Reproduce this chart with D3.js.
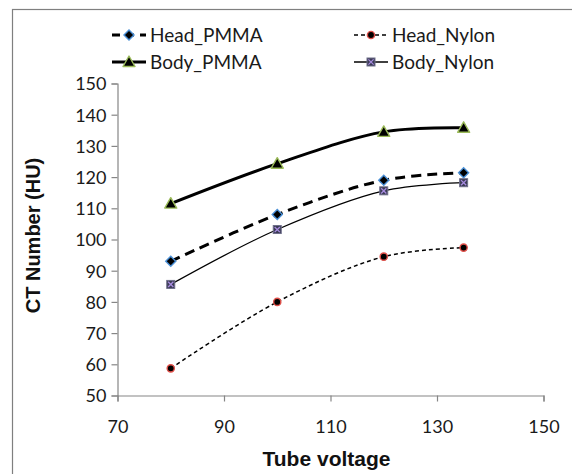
<!DOCTYPE html>
<html>
<head>
<meta charset="utf-8">
<script src="https://cdn.jsdelivr.net/npm/d3@7"></script>
<style>
  body { margin: 0; background: #fff; }
  svg { display: block; font-family: Lato, "Open Sans", sans-serif; }
</style>
</head>
<body>
<div id="chart"></div>
<script>
// Data
const voltages = [80, 100, 120, 135];
const headPMMA = [93, 108, 119, 121.4];
const headNylon = [58.7, 80, 94.5, 97.4];
const bodyPMMA = [111.5, 124.3, 134.5, 135.8];
const bodyNylon = [85.6, 103.2, 115.6, 118.2];
const xTicks = [70, 90, 110, 130, 150];
const yTicks = [50, 60, 70, 80, 90, 100, 110, 120, 130, 140, 150];

const dimensions = {
  width: 572,
  height: 474,
  margin: { top: 83.5, bottom: 78.5, left: 117.5, right: 28.5 },
};
const containerWidth =
  dimensions.width - dimensions.margin.left - dimensions.margin.right;
const containerHeight =
  dimensions.height - dimensions.margin.top - dimensions.margin.bottom;

const series = [
  { name: "Head_PMMA", values: headPMMA, width: 3, dash: "10,6", marker: "diamond" },
  { name: "Head_Nylon", values: headNylon, width: 1.5, dash: "4,3", marker: "circle" },
  { name: "Body_PMMA", values: bodyPMMA, width: 3, dash: null, marker: "triangle" },
  { name: "Body_Nylon", values: bodyNylon, width: 1.3, dash: null, marker: "square" },
];

const svg = d3
  .select("#chart")
  .append("svg")
  .attr("width", dimensions.width)
  .attr("height", dimensions.height);

// outer chart frame
svg.append("rect")
  .attr("x", 12.5).attr("y", 9.5)
  .attr("width", 575).attr("height", 480)
  .attr("fill", "none")
  .attr("stroke", "#7f7f7f")
  .attr("stroke-width", 1.2);

const ctr = svg
  .append("g")
  .attr("transform", `translate(${dimensions.margin.left}, ${dimensions.margin.top})`);

const xScale = d3.scaleLinear().domain([70, 150]).range([0, containerWidth]);
const yScale = d3.scaleLinear().domain([50, 150]).range([containerHeight, 0]);

// Axes
const xAxis = d3.axisBottom(xScale).tickValues(xTicks).tickSizeOuter(0).tickSize(6).tickPadding(19);
const yAxis = d3.axisLeft(yScale).tickValues(yTicks).tickSizeOuter(0).tickSize(6).tickPadding(5);

const xAxisGroup = ctr.append("g")
  .attr("transform", `translate(0, ${containerHeight})`)
  .call(xAxis);
const yAxisGroup = ctr.append("g").call(yAxis);

[xAxisGroup, yAxisGroup].forEach((g) => {
  g.selectAll("path, line").attr("stroke", "#868686").attr("stroke-width", 1.2);
  g.selectAll("text")
    .attr("fill", "#1a1a1a")
    .style("font-size", "18px")
    .style("font-family", "Lato, sans-serif");
});
yAxisGroup.selectAll("text").attr("dy", "0.36em");

xAxisGroup.append("text")
  .attr("x", xScale(110) - 4)
  .attr("y", 70)
  .attr("fill", "#111")
  .attr("text-anchor", "middle")
  .style("font-size", "21px")
  .style("font-weight", "bold")
  .text("Tube voltage");

yAxisGroup.append("text")
  .attr("transform", `translate(${-dimensions.margin.left + 40}, ${containerHeight / 2 - 4}) rotate(-90)`)
  .attr("fill", "#111")
  .attr("text-anchor", "middle")
  .style("font-size", "20px")
  .style("font-weight", "bold")
  .text("CT Number (HU)");

// markers
function drawMarker(g, type, x, y) {
  if (type === "diamond") {
    g.append("path")
      .attr("d", `M${x},${y - 6}L${x + 6},${y}L${x},${y + 6}L${x - 6},${y}Z`)
      .attr("fill", "#4a8fd6");
    g.append("path")
      .attr("d", `M${x},${y - 4}L${x + 4},${y}L${x},${y + 4}L${x - 4},${y}Z`)
      .attr("fill", "#000");
  } else if (type === "circle") {
    g.append("circle").attr("cx", x).attr("cy", y).attr("r", 3.6)
      .attr("fill", "#000").attr("stroke", "#e0504a").attr("stroke-width", 1.4);
  } else if (type === "triangle") {
    g.append("path")
      .attr("d", `M${x},${y - 6}L${x + 6},${y + 4.5}L${x - 6},${y + 4.5}Z`)
      .attr("fill", "#000").attr("stroke", "#9bbb59").attr("stroke-width", 1.4)
      .attr("stroke-linejoin", "round");
  } else {
    g.append("rect").attr("x", x - 4).attr("y", y - 4).attr("width", 8).attr("height", 8)
      .attr("fill", "#3b3b55").attr("stroke", "#6f6f8a").attr("stroke-width", 1);
    g.append("path")
      .attr("d", `M${x - 2.6},${y - 2.6}L${x + 2.6},${y + 2.6}M${x + 2.6},${y - 2.6}L${x - 2.6},${y + 2.6}`)
      .attr("stroke", "#a88ce0").attr("stroke-width", 1.3);
  }
}

// lines
const line = d3.line()
  .x((d, i) => xScale(voltages[i]))
  .y((d) => yScale(d))
  .curve(d3.curveCatmullRom.alpha(0.5));

series.forEach((s) => {
  ctr.append("path")
    .attr("d", line(s.values))
    .attr("fill", "none")
    .attr("stroke", "#000")
    .attr("stroke-width", s.width)
    .attr("stroke-dasharray", s.dash);
});
series.forEach((s) => {
  const g = ctr.append("g");
  s.values.forEach((v, i) => drawMarker(g, s.marker, xScale(voltages[i]), yScale(v)));
});

// legend
const legendPos = [
  { x: 112, y: 35 },
  { x: 354, y: 35 },
  { x: 112, y: 62 },
  { x: 354, y: 62 },
];
series.forEach((s, i) => {
  const p = legendPos[i];
  const g = svg.append("g");
  g.append("line")
    .attr("x1", p.x).attr("x2", p.x + 34)
    .attr("y1", p.y).attr("y2", p.y)
    .attr("stroke", "#000")
    .attr("stroke-width", s.width)
    .attr("stroke-dasharray", s.dash ? (s.width > 2 ? "8,6" : "4,3") : null);
  drawMarker(g, s.marker, p.x + 17, p.y);
  g.append("text")
    .attr("x", p.x + 38)
    .attr("y", p.y)
    .attr("dy", "0.36em")
    .attr("fill", "#1a1a1a")
    .style("font-size", "19px")
    .text(s.name);
});
</script>
</body>
</html>
